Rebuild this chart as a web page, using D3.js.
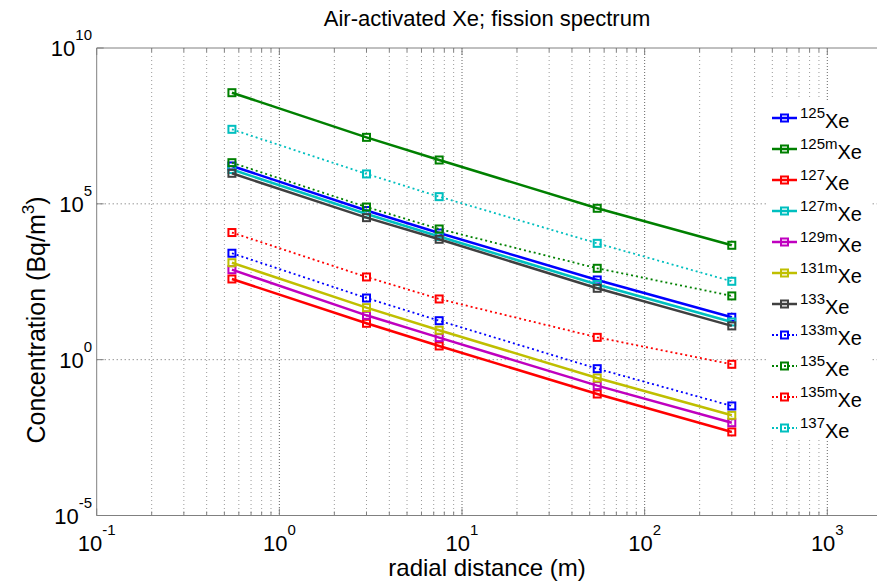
<!DOCTYPE html>
<html>
<head>
<meta charset="utf-8">
<script src="https://cdn.jsdelivr.net/npm/d3@7"></script>
<style>
  body { margin: 0; background: #fff; }
  text { font-family: "Liberation Sans", Arial, Helvetica, sans-serif; fill: #000; }
</style>
</head>
<body>
<div id="chart"></div>
<script>
// radial distances (m) where the concentrations were evaluated
var distances = [0.55, 3, 7.5, 55, 300];

// isotope labels (mass number + optional metastable flag)
var isotopes = ['125', '125m', '127', '127m', '129m', '131m', '133', '133m', '135', '135m', '137'];

// concentration (Bq/m^3) for each isotope, one value per distance
var xe125  = [1.64e6, 6.1e4, 1.16e4, 361, 22.9];
var xe125m = [3.68e8, 1.36e7, 2.55e6, 7.2e4, 4.68e3];
var xe127  = [388, 14.7, 2.75, 0.079, 0.0048];
var xe127m = [1.26e6, 4.7e4, 8.97e3, 259, 16.2];
var xe129m = [771, 26.5, 5.08, 0.147, 0.0095];
var xe131m = [1.29e3, 46.6, 8.8, 0.259, 0.0164];
var xe133  = [9.55e5, 3.6e4, 7.3e3, 195, 12.1];
var xe133m = [2.6e3, 95, 17.8, 0.514, 0.0327];
var xe135  = [2.09e6, 7.9e4, 1.56e4, 855, 111];
var xe135m = [1.2e4, 450, 88.5, 5.2, 0.71];
var xe137  = [2.46e7, 9.1e5, 1.7e5, 5.4e3, 327];

var seriesValues = [xe125, xe125m, xe127, xe127m, xe129m, xe131m, xe133, xe133m, xe135, xe135m, xe137];
var colors = ['#0000ff', '#008000', '#ff0000', '#00bfbf', '#bf00bf', '#bfbf00', '#404040',
              '#0000ff', '#008000', '#ff0000', '#00bfbf'];
var dotted = [false, false, false, false, false, false, false, true, true, true, true];

var xTickExps = [-1, 0, 1, 2, 3];
var yTickExps = [-5, 0, 5, 10];

var o = {
    width: 877,
    height: 581,
    margin: {top: 48, left: 96.7, bottom: 65.5},
    decadeX: 182.65
};

var svg = d3.select('#chart')
    .append('svg')
    .attr('width', o.width)
    .attr('height', o.height);

var plotBottom = o.height - o.margin.bottom;

// x axis runs past the right edge of the picture (cropped figure)
var x = d3.scaleLog()
    .domain([0.1, 2000])
    .range([o.margin.left, o.margin.left + o.decadeX * Math.log10(20000)]);

var y = d3.scaleLog()
    .domain([1e-5, 1e10])
    .range([plotBottom, o.margin.top]);

var xMax = o.width + 10;

// minor grid positions 2..9 x 10^e inside the axes
var minorX = [];
xTickExps.forEach(function(e) {
    for (var k = 2; k <= 9; k++) {
        var v = k * Math.pow(10, e);
        if (x(v) < xMax) minorX.push(v);
    }
});

var grid = svg.append('g');
grid.selectAll('line.minor')
    .data(minorX)
    .enter().append('line')
    .attr('class', 'minor')
    .attr('x1', function(d) { return x(d); })
    .attr('x2', function(d) { return x(d); })
    .attr('y1', o.margin.top)
    .attr('y2', plotBottom)
    .attr('stroke', '#9a9a9a')
    .attr('stroke-width', 1)
    .attr('stroke-dasharray', '1,3');

grid.selectAll('line.majorx')
    .data(xTickExps.slice(1))
    .enter().append('line')
    .attr('class', 'majorx')
    .attr('x1', function(d) { return x(Math.pow(10, d)); })
    .attr('x2', function(d) { return x(Math.pow(10, d)); })
    .attr('y1', o.margin.top)
    .attr('y2', plotBottom)
    .attr('stroke', '#666')
    .attr('stroke-width', 1)
    .attr('stroke-dasharray', '1,2');

grid.selectAll('line.majory')
    .data([0, 5])
    .enter().append('line')
    .attr('class', 'majory')
    .attr('x1', o.margin.left)
    .attr('x2', xMax)
    .attr('y1', function(d) { return y(Math.pow(10, d)); })
    .attr('y2', function(d) { return y(Math.pow(10, d)); })
    .attr('stroke', '#666')
    .attr('stroke-width', 1)
    .attr('stroke-dasharray', '1,3');

// box + ticks
var axisColor = '#808080';
svg.append('line')
    .attr('x1', o.margin.left).attr('x2', xMax)
    .attr('y1', plotBottom).attr('y2', plotBottom)
    .attr('stroke', axisColor);
svg.append('line')
    .attr('x1', o.margin.left).attr('x2', xMax)
    .attr('y1', o.margin.top).attr('y2', o.margin.top)
    .attr('stroke', axisColor);
svg.append('line')
    .attr('x1', o.margin.left).attr('x2', o.margin.left)
    .attr('y1', o.margin.top).attr('y2', plotBottom)
    .attr('stroke', axisColor);

var ticks = svg.append('g').attr('stroke', axisColor);
minorX.forEach(function(v) {
    ticks.append('line').attr('x1', x(v)).attr('x2', x(v)).attr('y1', plotBottom).attr('y2', plotBottom - 4);
    ticks.append('line').attr('x1', x(v)).attr('x2', x(v)).attr('y1', o.margin.top).attr('y2', o.margin.top + 4);
});
xTickExps.forEach(function(e) {
    var px = x(Math.pow(10, e));
    ticks.append('line').attr('x1', px).attr('x2', px).attr('y1', plotBottom).attr('y2', plotBottom - 7);
    ticks.append('line').attr('x1', px).attr('x2', px).attr('y1', o.margin.top).attr('y2', o.margin.top + 7);
});
yTickExps.forEach(function(e) {
    var py = y(Math.pow(10, e));
    ticks.append('line').attr('x1', o.margin.left).attr('x2', o.margin.left + 7).attr('y1', py).attr('y2', py);
});

// tick labels: 10 with superscript exponent
function powerLabel(g, px, py, e, anchor) {
    var t = g.append('text')
        .attr('x', px)
        .attr('y', py)
        .attr('text-anchor', anchor)
        .style('font-size', '22px');
    t.append('tspan').text('10');
    t.append('tspan')
        .attr('dy', -16)
        .style('font-size', '15px')
        .text(e < 0 ? '-' + Math.abs(e) : String(e));
}
var labels = svg.append('g');
xTickExps.forEach(function(e) {
    powerLabel(labels, x(Math.pow(10, e)), 551, e, 'middle');
});
yTickExps.forEach(function(e) {
    powerLabel(labels, 92, y(Math.pow(10, e)) + 8, e, 'end');
});

// series
var line = d3.line()
    .x(function(d) { return x(d[0]); })
    .y(function(d) { return y(d[1]); });

var series = isotopes.map(function(iso, i) {
    return {
        name: iso,
        color: colors[i],
        dotted: dotted[i],
        points: distances.map(function(dist, j) { return [dist, seriesValues[i][j]]; })
    };
});

var plot = svg.append('g');
series.forEach(function(s) {
    plot.append('path')
        .attr('d', line(s.points))
        .attr('fill', 'none')
        .attr('stroke', s.color)
        .attr('stroke-width', s.dotted ? 1.8 : 2.5)
        .attr('stroke-dasharray', s.dotted ? '2,3' : null);
    plot.selectAll(null)
        .data(s.points)
        .enter().append('rect')
        .attr('x', function(d) { return x(d[0]) - 3.5; })
        .attr('y', function(d) { return y(d[1]) - 3.5; })
        .attr('width', 7)
        .attr('height', 7)
        .attr('fill', 'none')
        .attr('stroke', s.color)
        .attr('stroke-width', 2);
});

// legend
var legend = svg.append('g');
legend.append('rect')
    .attr('x', 767).attr('y', 100)
    .attr('width', 105).attr('height', 340)
    .attr('fill', '#fff');
series.forEach(function(s, i) {
    var ly = 118 + i * 31;
    legend.append('line')
        .attr('x1', 772).attr('x2', 797)
        .attr('y1', ly).attr('y2', ly)
        .attr('stroke', s.color)
        .attr('stroke-width', s.dotted ? 1.8 : 2.5)
        .attr('stroke-dasharray', s.dotted ? '2,2' : null);
    legend.append('rect')
        .attr('x', 781).attr('y', ly - 3.5)
        .attr('width', 7).attr('height', 7)
        .attr('fill', 'none')
        .attr('stroke', s.color)
        .attr('stroke-width', 2);
    var t = legend.append('text')
        .attr('x', 800)
        .attr('y', ly);
    t.append('tspan').style('font-size', '15px').text(s.name);
    t.append('tspan').attr('dy', 10).style('font-size', '20px').text('Xe');
});

// title and axis labels
svg.append('text')
    .attr('x', 487).attr('y', 26)
    .attr('text-anchor', 'middle')
    .style('font-size', '22px')
    .text('Air-activated Xe; fission spectrum');

svg.append('text')
    .attr('x', 487).attr('y', 576)
    .attr('text-anchor', 'middle')
    .style('font-size', '24px')
    .text('radial distance (m)');

var yl = svg.append('text')
    .attr('transform', 'translate(45,320) rotate(-90)')
    .attr('text-anchor', 'middle')
    .style('font-size', '25px');
yl.append('tspan').text('Concentration (Bq/m');
yl.append('tspan').attr('dy', -11).style('font-size', '17px').text('3');
yl.append('tspan').attr('dy', 11).text(')');
</script>
</body>
</html>
